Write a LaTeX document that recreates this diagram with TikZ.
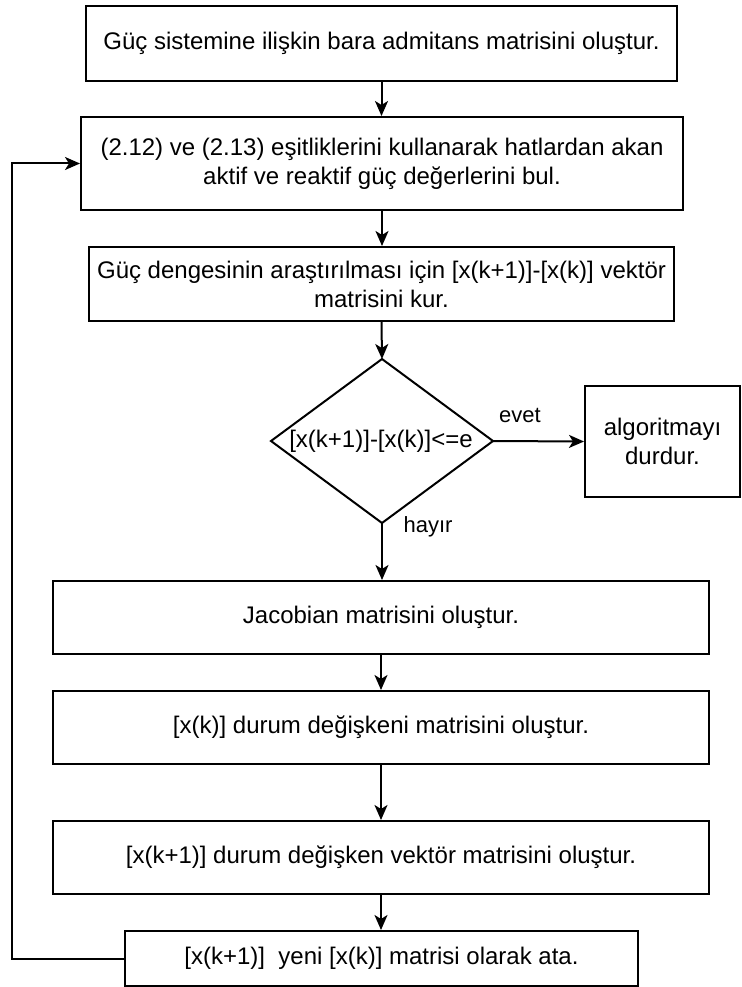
\documentclass[tikz,border=0pt]{standalone}
\usepackage{fontspec}
\setmainfont{Liberation Sans}
\usetikzlibrary{arrows.meta,shapes.geometric}
\begin{document}
\begin{tikzpicture}[x=1pt,y=-1pt,
  every node/.style={font=\fontsize{24}{29}\selectfont},
  box/.style={draw, line width=2pt, inner sep=0pt, align=center},
  lbl/.style={font=\fontsize{22}{26}\selectfont, inner sep=0pt},
  arr/.style={line width=2pt, -{Stealth[length=15pt,width=13pt,inset=4pt]}},
  ln/.style={line width=2pt}]
\useasboundingbox (0,0) rectangle (741,987);
\node[box, minimum width=591, minimum height=75] (b1) at (381.5,43.5) {Güç sistemine ilişkin bara admitans matrisini oluştur.};
\node[box, minimum width=602, minimum height=93] (b2) at (382,163.5) {(2.12) ve (2.13) eşitliklerini kullanarak hatlardan akan\\aktif ve reaktif güç değerlerini bul.};
\node[box, minimum width=585, minimum height=74] (b3) at (381.5,284) {Güç dengesinin araştırılması için [x(k+1)]-[x(k)] vektör\\matrisini kur.};
\node[diamond, draw, line width=2pt, minimum width=222, minimum height=164, inner sep=0pt, outer sep=0pt] (d) at (382,441) {};
\node[inner sep=0pt] (dt) at (381,441) {[x(k+1)]-[x(k)]<=e};
\node[box, minimum width=155, minimum height=111] (stop) at (662.5,441.5) {algoritmayı\\durdur.};
\node[box, minimum width=656, minimum height=73] (b4) at (381,617.5) {Jacobian matrisini oluştur.};
\node[box, minimum width=656, minimum height=73] (b5) at (381,727.5) {[x(k)] durum değişkeni matrisini oluştur.};
\node[box, minimum width=656, minimum height=73] (b6) at (381,857.5) {[x(k+1)] durum değişken vektör matrisini oluştur.};
\node[box, minimum width=513, minimum height=55] (b7) at (381.5,958.5) {[x(k+1)]\ \ yeni [x(k)] matrisi olarak ata.};
\coordinate (lb) at (12,958.5);
\coordinate (lt) at (12,163.5);
\draw[arr] (b1.south) -- (b1.south |- b2.north);
\draw[arr] (b2.south) -- (b2.south |- b3.north);
\draw[arr] (b3.south) -- (d.north);
\draw[arr] (d.east) -- (stop.west);
\node[lbl] (ev) at (520,415) {evet};
\draw[arr] (d.south) -- (d.south |- b4.north);
\node[lbl] (hy) at (428,527) {hayır};
\draw[arr] (b4.south) -- (b4.south |- b5.north);
\draw[arr] (b5.south) -- (b5.south |- b6.north);
\draw[arr] (b6.south) -- (b6.south |- b7.north);
\draw[arr] (b7.west) -- (lb) -- (lt) -- (b2.west);
\end{tikzpicture}
\end{document}
